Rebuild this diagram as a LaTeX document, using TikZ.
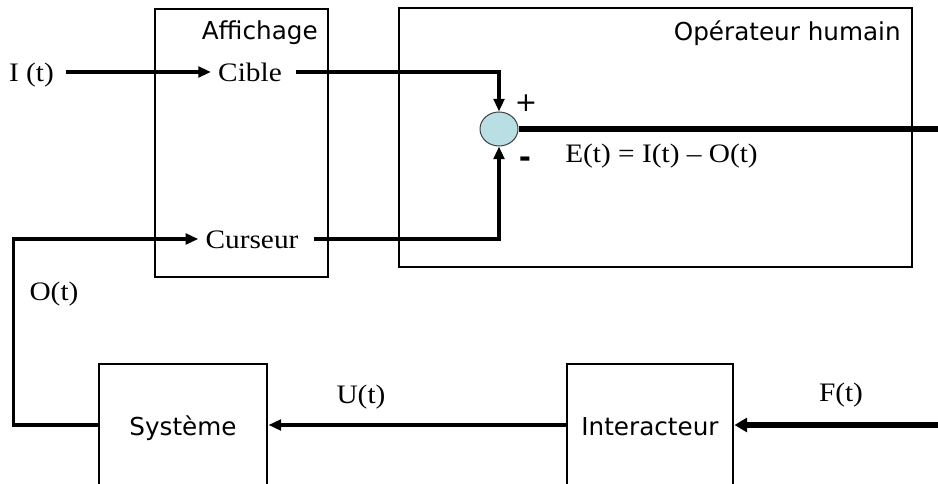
\documentclass[tikz,border=0pt]{standalone}
\usepackage{fontspec}
\setmainfont{Liberation Serif}
\newfontfamily\dvs{DejaVu Sans}
\usetikzlibrary{arrows.meta,shapes.geometric,fit}
\newcommand\wide[1]{\scalebox{1.1}[1]{#1}}
\definecolor{junc}{RGB}{185,222,228}
\begin{document}
\begin{tikzpicture}[x=0.75pt,y=-0.75pt,
  boxst/.style={draw, line width=2.2pt, inner sep=0pt},
  blk/.style={draw, line width=2.2pt, font=\dvs\fontsize{18.5pt}{22pt}\selectfont,
    minimum width=#1, minimum height=91.5pt, text height=16pt, text depth=1pt, inner sep=0pt},
  ser/.style={font=\fontsize{20pt}{22pt}\selectfont, text height=16.5pt, text depth=1.5pt,
    inner ysep=0pt, inner xsep=5.25pt},
  sanslbl/.style={font=\dvs\fontsize{18.5pt}{22pt}\selectfont, inner sep=0pt},
  conn/.style={line width=2.8pt, -{Triangle[length=9.5pt,width=8pt]}},
  fconn/.style={line width=4.2pt, -{Triangle[length=9.5pt,width=10.5pt]}},
  eline/.style={line width=4.2pt},
]
\useasboundingbox (0,0) rectangle (938,484);
% boxes
\node[boxst, fit={(155,9) (328,277)}] (aff) {};
\node[sanslbl, anchor=base east] (afft) at (318,40) {Affichage};
\node[boxst, fit={(399,8) (912,267)}] (oph) {};
\node[sanslbl, anchor=base east] (opht) at (901,41) {Opérateur humain};
% labels
\node[ser] (it) at (31.5,72) {\wide{I (t)}};
\node[ser] (cible) at (250,72) {\wide{Cible}};
\node[ser] (curs) at (252,239) {\wide{Curseur}};
\node[ellipse, draw=black!75, line width=0.75pt, fill=junc, minimum width=28.5pt,
  minimum height=25.5pt, inner sep=0pt] (sum) at (499,129) {};
\node[font=\dvs\fontsize{20pt}{20pt}\selectfont, inner sep=0pt] (plus) at (526,103) {+};
\node[font=\dvs\bfseries\fontsize{22pt}{22pt}\selectfont, inner sep=0pt] (minus) at (525,162) {-};
\node[ser, anchor=west] (et) at (558,153) {\wide{E(t) = I(t) – O(t)}};
\node[ser] (ot) at (54,291) {\wide{O(t)}};
\node[blk=126pt] (sys) at (183,425) {Système};
\node[blk=124.5pt] (inter) at (650,425) {Interacteur};
\node[ser] (ut) at (361,393) {\wide{U(t)}};
\node[ser] (ft) at (841,391) {\wide{F(t)}};
\coordinate (eend) at (940,129);
\coordinate (fstart) at (940,425);
% connectors
\draw[conn, shorten <=4pt] (it) -- (cible);
\draw[conn, shorten <=5.25pt] (cible.east) -| (sum.north);
\draw[conn, shorten <=6pt] (curs.east) -| (sum.south);
\draw[conn] (sys.west) -- ++(-84,0) |- (curs.west);
\draw[eline] (sum.east) -- (eend);
\draw[conn] (inter) -- (sys);
\draw[fconn] (fstart) -- (inter);
\end{tikzpicture}
\end{document}
